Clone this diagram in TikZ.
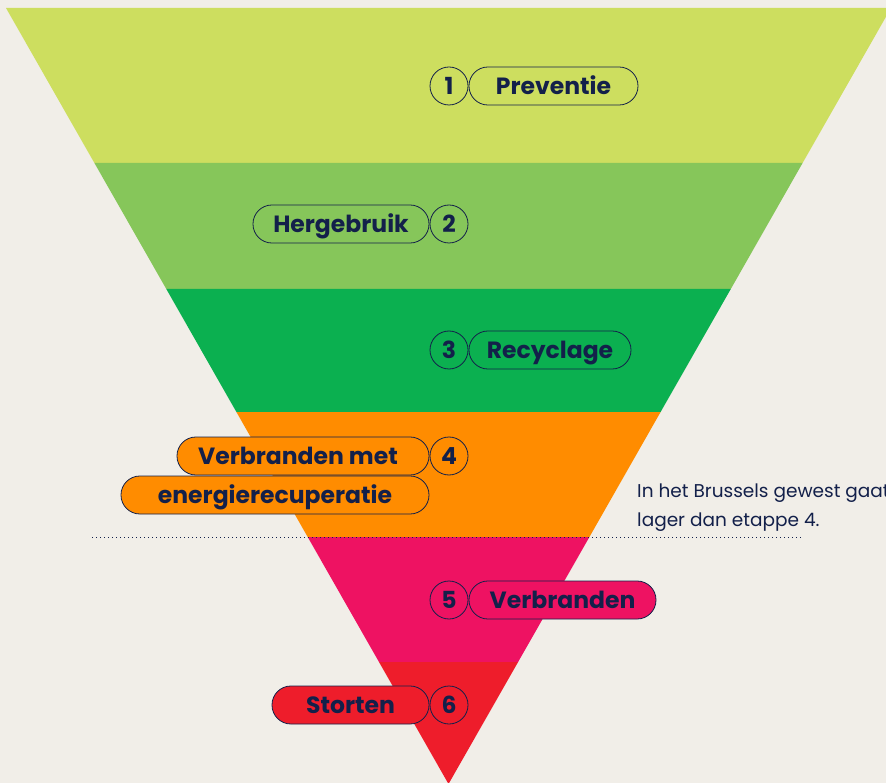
\documentclass[tikz,border=0pt]{standalone}
\usepackage{fontspec}
\setmainfont{Poppins}
\newfontfamily\boldf{Poppins}[UprightFont=* Bold]
\definecolor{bg}{HTML}{F1EEE8}
\definecolor{ink}{HTML}{13204A}
\definecolor{bandA}{HTML}{CDDE5F}
\definecolor{bandB}{HTML}{86C65A}
\definecolor{bandC}{HTML}{0BB050}
\definecolor{bandD}{HTML}{FF8C00}
\definecolor{bandE}{HTML}{EE1262}
\definecolor{bandF}{HTML}{EE1D2B}
\begin{document}
\begin{tikzpicture}[x=1pt,y=-1pt,
  pill/.style={draw=ink, line width=0.8pt, rounded corners=18.9pt, minimum height=38pt, inner sep=0pt, text=ink, text height=16.5pt, text depth=0pt, font=\boldf\fontsize{23.5}{28}\selectfont},
  num/.style={draw=ink, line width=0.8pt, circle, minimum size=38pt, inner sep=0pt, text=ink, text height=16.5pt, text depth=0pt, font=\boldf\fontsize{23.5}{28}\selectfont},
  note/.style={text=ink, font=\fontsize{18.5}{28.5}\selectfont, anchor=base west, inner sep=0pt, align=left}]
\useasboundingbox (0,0) rectangle (886,783);
\clip (0,0) rectangle (886,783);
\fill[bg] (0,0) rectangle (886,783);
% bands
\fill[bandA] (6,8) -- (891,8) -- (802.6,163) -- (94.4,163) -- cycle;
\fill[bandB] (94.4,163) -- (802.6,163) -- (730.8,289) -- (166.3,289) -- cycle;
\fill[bandC] (166.3,289) -- (730.8,289) -- (660.6,412) -- (236.4,412) -- cycle;
\fill[bandD] (236.4,412) -- (660.6,412) -- (589.4,537) -- (307.7,537) -- cycle;
\fill[bandE] (307.7,537) -- (589.4,537) -- (518.1,662) -- (379.0,662) -- cycle;
\fill[bandF] (379.0,662) -- (518.1,662) -- (448.5,784) -- cycle;
% dotted line
\coordinate (dotL) at (92,537);
\coordinate (dotR) at (801,537);
\draw[ink, line width=1pt, dash pattern=on 1pt off 3pt] (dotL) -- (dotR);
% note (last line baseline)
\node[note] (noteA) at (637,526) {In het Brussels gewest gaat\\lager dan etappe 4.};
% labels
\node[num, fill=bandA] (n1) at (449,86) {1};
\node[pill, fill=bandA, minimum width=169pt] (p1) at (553.5,86) {Preventie};
\node[pill, fill=bandB, minimum width=176pt] (p2) at (341,224) {Hergebruik};
\node[num, fill=bandB] (n2) at (449,224) {2};
\node[num, fill=bandC] (n3) at (449,350) {3};
\node[pill, fill=bandC, minimum width=162pt] (p3) at (550,350) {Recyclage};
\node[pill, fill=bandD, minimum width=308pt] (p4b) at (275,495) {energierecuperatie};
\node[pill, fill=bandD, minimum width=252pt] (p4a) at (303,456) {\hspace*{-10pt}Verbranden met};
\node[num, fill=bandD] (n4) at (449,456) {4};
\node[num, fill=bandE] (n5) at (449,600) {5};
\node[pill, fill=bandE, minimum width=187pt] (p5) at (562.5,600) {Verbranden};
\node[pill, fill=bandF, minimum width=157pt] (p6) at (350.5,705) {Storten};
\node[num, fill=bandF] (n6) at (449,705) {6};
\end{tikzpicture}
\end{document}
